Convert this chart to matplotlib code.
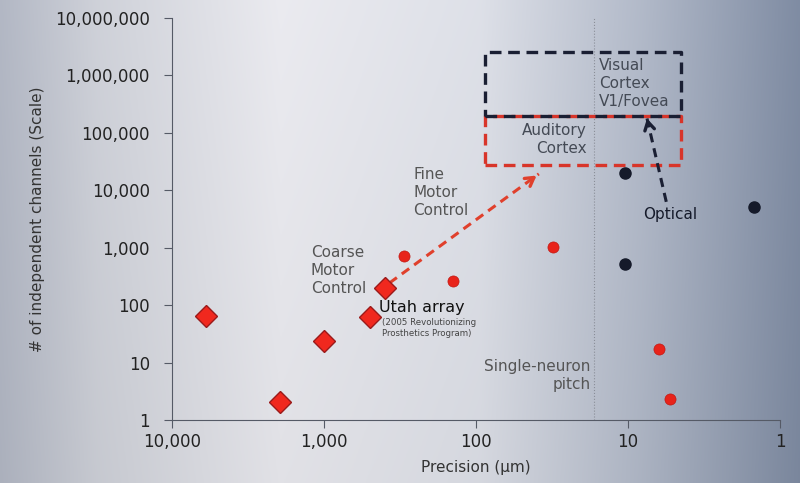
import numpy as np
import matplotlib.pyplot as plt
from matplotlib.ticker import FixedLocator, FuncFormatter, NullLocator

# red diamonds (electrode arrays)
dia_x = [6000, 1950, 1000, 495, 395]
dia_y = [65, 2.1, 24, 62, 200]
# red dots
red_x = [297, 142, 31, 6.3, 5.3]
red_y = [720, 265, 1030, 17, 2.3]
# black dots (optical)
blk_x = [10.4, 10.4, 1.48]
blk_y = [20000, 520, 5150]

pitch_x = 16.8
box_x = [87, 4.46]
visual_y = [198000, 2570000]
auditory_y = [27800, 198000]
fine_arrow = [(371, 244), (38.6, 19300)]
opt_arrow = [(5.6, 6300), (7.57, 198000)]

yticks = [1, 10, 100, 1000, 10000, 100000, 1000000, 10000000]
xticks = [10000, 1000, 100, 10, 1]

fig = plt.figure(figsize=(8, 4.83), dpi=100)

# photographed-slide background
bg = fig.add_axes([0, 0, 1, 1], zorder=-10)
gx = np.linspace(0, 1, 400)
gy = np.linspace(0, 1, 240)
X, Y = np.meshgrid(gx, gy)
stops = [0, 0.12, 0.35, 0.6, 0.8, 1]
r = np.interp(X, stops, [0.70, 0.81, 0.92, 0.87, 0.70, 0.50])
g = np.interp(X, stops, [0.72, 0.82, 0.92, 0.88, 0.73, 0.55])
b = np.interp(X, stops, [0.77, 0.85, 0.94, 0.91, 0.79, 0.64])
shade = 1 - 0.04 * Y
col = np.dstack([r * shade, g * shade, b * shade])
bg.imshow(np.clip(col, 0, 1), aspect='auto', extent=[0, 1, 0, 1])
bg.axis('off')

ax = fig.add_axes([0.215, 0.130, 0.760, 0.833])
ax.patch.set_alpha(0)
ax.set_xscale('log')
ax.set_yscale('log')
ax.set_xlim(10000, 1)
ax.set_ylim(1, 10000000)
for s in ['top', 'right']:
    ax.spines[s].set_visible(False)
for s in ['left', 'bottom']:
    ax.spines[s].set_color('#555a66')
ax.xaxis.set_major_locator(FixedLocator(xticks))
ax.yaxis.set_major_locator(FixedLocator(yticks))
ax.xaxis.set_minor_locator(NullLocator())
ax.yaxis.set_minor_locator(NullLocator())
fmt = FuncFormatter(lambda v, p: f'{int(round(v)):,}')
ax.xaxis.set_major_formatter(fmt)
ax.yaxis.set_major_formatter(fmt)
ax.tick_params(colors='#555a66', labelcolor='#222222', labelsize=12, length=6)
ax.tick_params(axis='y', pad=10)
ax.set_xlabel('Precision (µm)', fontsize=11, color='#333333', labelpad=6)
ax.set_ylabel('# of independent channels (Scale)', fontsize=11, color='#333333', labelpad=7)

ax.axvline(pitch_x, color='#8a8e98', lw=0.8, ls=':')

ax.plot(dia_x, dia_y, ls='none', marker='D', ms=11, mfc='#f0281e', mec='#9a1a1a', mew=1.0, zorder=5)
ax.plot(red_x, red_y, ls='none', marker='o', ms=8, mfc='#e8231a', mec='#c01a14', mew=0.5, zorder=5)
ax.plot(blk_x, blk_y, ls='none', marker='o', ms=8, mfc='#151a2a', mec='#151a2a', zorder=5)

# dashed boxes
def box(xs, ys, color):
    ax.plot([xs[0], xs[1], xs[1], xs[0], xs[0]], [ys[0], ys[0], ys[1], ys[1], ys[0]],
            color=color, lw=2.4, ls=(0, (3.5, 2)), zorder=3)

box(box_x, auditory_y, '#d8352a')
box(box_x, visual_y, '#1a1f33')

# dashed arrows with solid open heads
def arrow(pts, color):
    (x0, y0), (x1, y1) = pts
    ax.plot([x0, x1], [y0, y1], color=color, lw=2.2, ls=(0, (3, 2)), zorder=3)
    p0 = ax.transData.transform((x0, y0))
    p1 = ax.transData.transform((x1, y1))
    d = (p1 - p0) / np.hypot(*(p1 - p0))
    ax.annotate('', xy=(x1, y1), xytext=tuple(-d * 8), textcoords='offset points',
                arrowprops=dict(arrowstyle='->,head_length=0.6,head_width=0.35',
                                color=color, lw=2.4), zorder=4)

arrow(fine_arrow, '#e0402c')
arrow(opt_arrow, '#1a1f33')

tc = '#555555'
ax.text(259, 9000, 'Fine\nMotor\nControl', fontsize=11, color=tc, va='center', ha='left', linespacing=1.25)
ax.text(1224, 410, 'Coarse\nMotor\nControl', fontsize=11, color=tc, va='center', ha='left', linespacing=1.25)
ax.text(433, 93, 'Utah array', fontsize=11.5, color='#111111', va='center', ha='left')
ax.text(415, 40, '(2005 Revolutionizing\nProsthetics Program)', fontsize=6.2, color='#444444',
        va='center', ha='left', linespacing=1.2)
ax.text(17.6, 6.1, 'Single-neuron\npitch', fontsize=11, color=tc, va='center', ha='right', linespacing=1.25)
ax.text(15.6, 714000, 'Visual\nCortex\nV1/Fovea', fontsize=11, color='#444a55', va='center', ha='left', linespacing=1.25)
ax.text(18.7, 75500, 'Auditory\nCortex', fontsize=11, color='#444a55', va='center', ha='right', linespacing=1.25)
ax.text(5.26, 3730, 'Optical', fontsize=11, color='#151a2a', va='center', ha='center')

fig.savefig('out.png', dpi=100)
